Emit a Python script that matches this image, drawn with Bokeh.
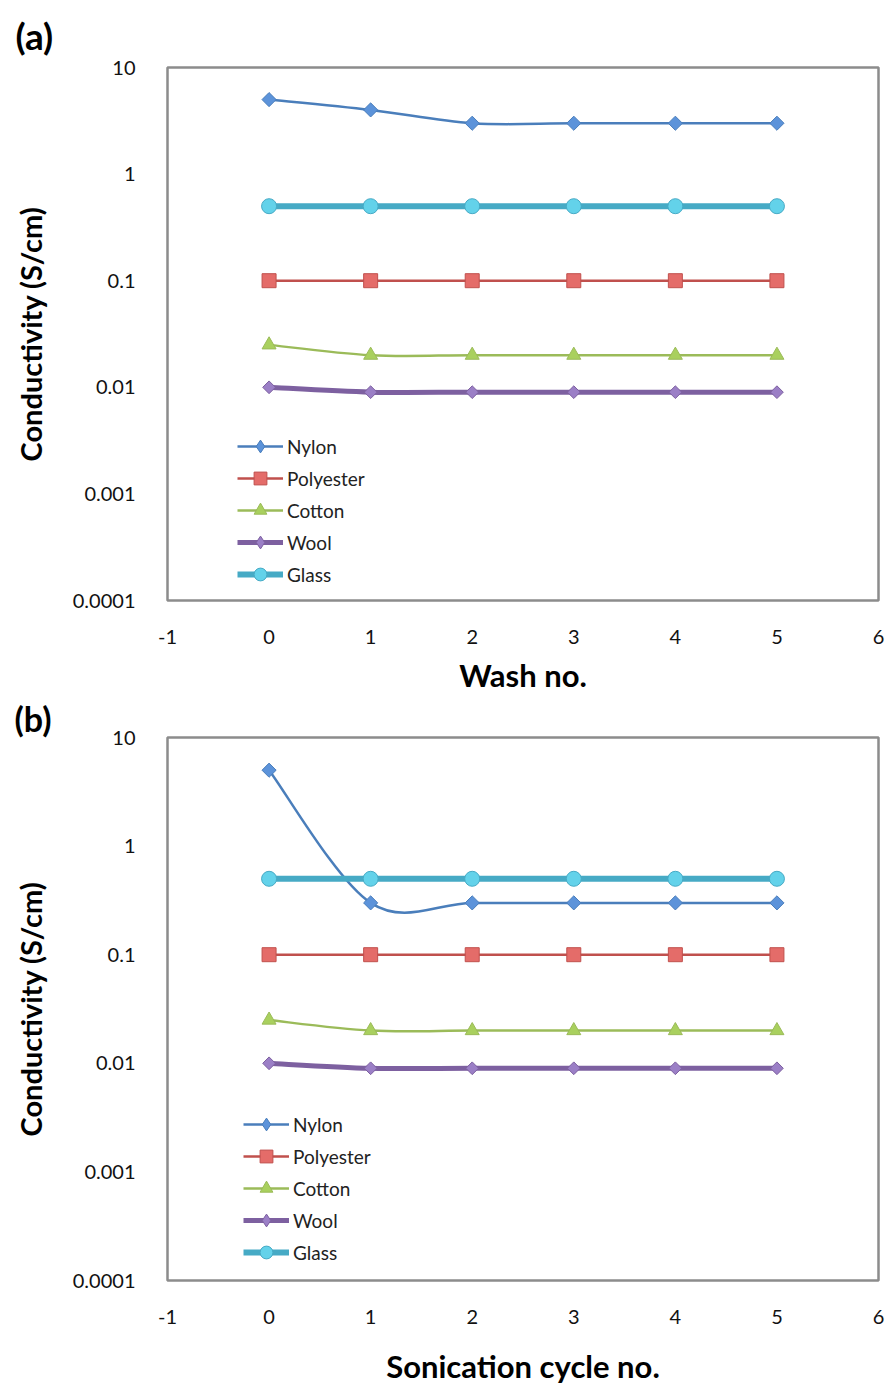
import numpy as np
from bokeh.plotting import figure
from bokeh.layouts import column
from bokeh.models import (FixedTicker, CustomJSTickFormatter, Legend, LegendItem,
                          Title, Range1d, ColumnDataSource)
from bokeh.embed import file_html
from bokeh.resources import INLINE

# ---------------- data ----------------
series_names = ["Nylon", "Polyester", "Cotton", "Wool", "Glass"]

wash_no = [0, 1, 2, 3, 4, 5]
wash_nylon = [5.0, 4.0, 3.0, 3.0, 3.0, 3.0]
wash_polyester = [0.1, 0.1, 0.1, 0.1, 0.1, 0.1]
wash_cotton = [0.025, 0.02, 0.02, 0.02, 0.02, 0.02]
wash_wool = [0.01, 0.009, 0.009, 0.009, 0.009, 0.009]
wash_glass = [0.5, 0.5, 0.5, 0.5, 0.5, 0.5]

sonication_no = [0, 1, 2, 3, 4, 5]
son_nylon = [5.0, 0.3, 0.3, 0.3, 0.3, 0.3]
son_polyester = [0.1, 0.1, 0.1, 0.1, 0.1, 0.1]
son_cotton = [0.025, 0.02, 0.02, 0.02, 0.02, 0.02]
son_wool = [0.01, 0.009, 0.009, 0.009, 0.009, 0.009]
son_glass = [0.5, 0.5, 0.5, 0.5, 0.5, 0.5]

y_ticks = [0.0001, 0.001, 0.01, 0.1, 1, 10]
x_ticks = [-1, 0, 1, 2, 3, 4, 5, 6]

# ---------------- styles ----------------
# marker: plot marker, legend_marker: marker shown in the legend key
styles = {
    "Nylon":     dict(color="#4A7EBB", width=2.5, marker="square",   size=10, angle=np.pi / 4,
                      legend_marker="diamond", fill="#5C93DA"),
    "Polyester": dict(color="#C0504D", width=2.5, marker="square",   size=14, angle=0.0,
                      legend_marker="square", fill="#E46C69"),
    "Cotton":    dict(color="#9BBB59", width=2.5, marker="triangle", size=14, angle=0.0,
                      legend_marker="triangle", fill="#A9D05E"),
    "Wool":      dict(color="#7D60A0", width=5,   marker="square",   size=9,  angle=np.pi / 4,
                      legend_marker="diamond", fill="#9B7FC6"),
    "Glass":     dict(color="#46AAC5", width=6,   marker="circle",   size=15, angle=0.0,
                      legend_marker="circle", fill="#63D2EA"),
}

FONT = "Lato"


def smooth_segments(xs, ys):
    """Bezier segments of a spreadsheet-style smoothed line,
    computed in (x, log10 y) space from the data points."""
    x = np.asarray(xs, float)
    ly = np.log10(np.asarray(ys, float))
    n = len(x)
    d = dict(x0=[], y0=[], x1=[], y1=[], cx0=[], cy0=[], cx1=[], cy1=[])
    for i in range(n - 1):
        im = max(i - 1, 0)
        ip = min(i + 2, n - 1)
        c0x = x[i] + (x[i + 1] - x[im]) / 6.0
        c0y = ly[i] + (ly[i + 1] - ly[im]) / 6.0
        c1x = x[i + 1] - (x[ip] - x[i]) / 6.0
        c1y = ly[i + 1] - (ly[ip] - ly[i]) / 6.0
        d["x0"].append(x[i]); d["y0"].append(10 ** ly[i])
        d["x1"].append(x[i + 1]); d["y1"].append(10 ** ly[i + 1])
        d["cx0"].append(c0x); d["cy0"].append(10 ** c0y)
        d["cx1"].append(c1x); d["cy1"].append(10 ** c1y)
    return d


def make_panel(xs, data, x_title, height, left, top, bottom,
               legend_xy, title_standoff, label_standoff_x):
    p = figure(width=891, height=height, y_axis_type="log",
               x_range=Range1d(-1, 6), y_range=Range1d(0.0001, 10),
               output_backend="svg", toolbar_location=None,
               min_border_left=left, min_border_right=13,
               min_border_top=top, min_border_bottom=bottom)
    p.xgrid.visible = False
    p.ygrid.visible = False
    p.background_fill_color = "white"
    p.border_fill_color = "white"
    p.outline_line_color = "#8C8C8C"
    p.outline_line_width = 2.5

    # axes
    p.xaxis.ticker = FixedTicker(ticks=x_ticks)
    p.xaxis.formatter = CustomJSTickFormatter(code="return tick.toString();")
    p.yaxis.ticker = FixedTicker(ticks=y_ticks, minor_ticks=[])
    p.yaxis.formatter = CustomJSTickFormatter(code="""
        if (tick >= 1) { return tick.toFixed(0); }
        return tick.toFixed(Math.round(-Math.log10(tick)));
    """)
    for ax in (p.xaxis[0], p.yaxis[0]):
        ax.axis_line_color = None
        ax.major_tick_line_color = None
        ax.minor_tick_line_color = None
        ax.major_label_text_font = FONT
        ax.major_label_text_font_size = "20px"
        ax.major_label_text_color = "#111111"
        ax.axis_label_text_font = FONT
        ax.axis_label_text_font_style = "bold"
        ax.axis_label_text_color = "#000000"
    p.xaxis.major_label_standoff = label_standoff_x
    p.yaxis.major_label_standoff = 26
    p.xaxis.axis_label = x_title
    p.xaxis.axis_label_text_font_size = "31px"
    p.xaxis.axis_label_standoff = title_standoff
    p.yaxis.axis_label = "Conductivity (S/cm)"
    p.yaxis.axis_label_text_font_size = "29px"
    p.yaxis.axis_label_standoff = 22

    items = []
    for name in series_names:
        st = styles[name]
        ys = data[name]
        seg = ColumnDataSource(smooth_segments(xs, ys))
        ln = p.bezier(x0="x0", y0="y0", x1="x1", y1="y1", cx0="cx0", cy0="cy0",
                      cx1="cx1", cy1="cy1", source=seg,
                      line_color=st["color"], line_width=st["width"])
        p.scatter(xs, ys, marker=st["marker"], size=st["size"], angle=st["angle"],
                  fill_color=st["fill"], line_color=st["color"], line_width=1)
        # hidden renderer used only for the legend key marker
        key = p.scatter(xs, ys, marker=st["legend_marker"], size=st["size"],
                        fill_color=st["fill"], line_color=st["color"], line_width=1,
                        visible=False)
        items.append(LegendItem(label=name, renderers=[ln, key]))

    legend = Legend(items=items, location=legend_xy, orientation="vertical",
                    glyph_width=46, glyph_height=32, label_height=20,
                    spacing=0, padding=0, margin=0, label_standoff=4,
                    background_fill_alpha=0, border_line_color=None,
                    inactive_fill_alpha=0,
                    label_text_font=FONT, label_text_font_size="19px",
                    label_text_color="#222222")
    p.add_layout(legend, "center")
    return p


data_a = {"Nylon": wash_nylon, "Polyester": wash_polyester, "Cotton": wash_cotton,
          "Wool": wash_wool, "Glass": wash_glass}
data_b = {"Nylon": son_nylon, "Polyester": son_polyester, "Cotton": son_cotton,
          "Wool": son_wool, "Glass": son_glass}

pa = make_panel(wash_no, data_a, "Wash no.", 697, 160, 66, 97, (70, 10), 9, 23)
pa.add_layout(Title(text="(a)", align="left", offset=-152, standoff=20,
                    text_font=FONT, text_font_size="37px",
                    text_font_style="bold", text_color="#000000"), "above")

pb = make_panel(sonication_no, data_b, "Sonication cycle no.", 691, 167, 38, 108,
                (76, 12), 20, 23)
pb.add_layout(Title(text="(b)", align="left", offset=-153, standoff=-3,
                    text_font=FONT, text_font_size="34px",
                    text_font_style="bold", text_color="#000000"), "above")

layout = column(pa, pb, spacing=0)
open("out.html", "w").write(file_html(layout, INLINE))
